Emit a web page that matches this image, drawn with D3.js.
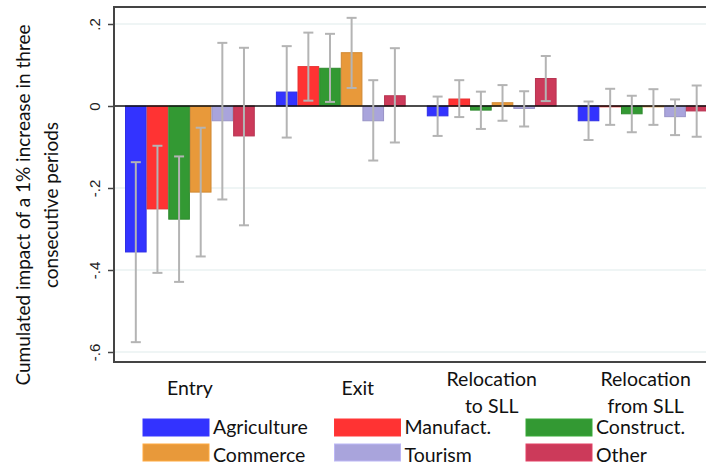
<!DOCTYPE html>
<html>
<head>
<meta charset="utf-8">
<script src="https://cdn.jsdelivr.net/npm/d3@7"></script>
<style>
  body { margin: 0; background: #fff; }
  text { font-family: Lato, "Open Sans", sans-serif; }
</style>
</head>
<body>
<div class="chart"></div>
<script>
// data
const groups = ['Entry', 'Exit', 'RelocTo', 'RelocFrom']
const groupLabels = [['Entry'], ['Exit'], ['Relocation', 'to SLL'], ['Relocation', 'from SLL']]
const sectors = ['Agriculture', 'Manufact.', 'Construct.', 'Commerce', 'Tourism', 'Other']
const colors = ['#3333ff', '#ff3333', '#339933', '#e8993a', '#a9a4dc', '#cc3a5a']

// estimates per group, one value per sector
const estimates = [
  [-0.356, -0.251, -0.276, -0.210, -0.036, -0.073],
  [0.034, 0.096, 0.092, 0.130, -0.036, 0.025],
  [-0.024, 0.017, -0.010, 0.008, -0.006, 0.067],
  [-0.036, -0.002, -0.019, -0.002, -0.026, -0.012]
]
const ciLow = [
  [-0.576, -0.407, -0.429, -0.367, -0.228, -0.291],
  [-0.077, 0.013, 0.010, 0.044, -0.133, -0.089],
  [-0.073, -0.027, -0.056, -0.036, -0.050, 0.012],
  [-0.083, -0.046, -0.064, -0.046, -0.071, -0.075]
]
const ciHigh = [
  [-0.137, -0.097, -0.123, -0.053, 0.154, 0.142],
  [0.146, 0.179, 0.176, 0.215, 0.063, 0.141],
  [0.023, 0.063, 0.035, 0.051, 0.036, 0.122],
  [0.011, 0.042, 0.025, 0.041, 0.016, 0.050]
]
const yTicks = [0.2, 0, -0.2, -0.4, -0.6]
const yTickLabels = ['.2', '0', '-.2', '-.4', '-.6']

const width = 706, height = 468

const svg = d3.select('.chart').append('svg')
  .attr('width', width)
  .attr('height', height)

// plot frame
const frame = {left: 114, top: 7, bottom: 362, right: 712}

const y = d3.scaleLinear()
  .domain([0, 0.2])
  .range([106, 24])

const x0 = d3.scaleBand()
  .domain(groups)
  .range([125, 707.5])
  .paddingInner(0.14)
  .paddingOuter(0)

const x1 = d3.scaleBand()
  .domain(sectors)
  .range([0, x0.bandwidth()])

const color = d3.scaleOrdinal().domain(sectors).range(colors)

// gridlines
svg.append('g')
  .selectAll('line')
  .data(yTicks.filter(d => d !== 0))
  .enter().append('line')
  .attr('x1', frame.left)
  .attr('x2', frame.right)
  .attr('y1', d => y(d))
  .attr('y2', d => y(d))
  .attr('stroke', '#eaf2f2')
  .attr('stroke-width', 1.5)

// bars
const rows = []
groups.forEach((g, gi) => {
  sectors.forEach((s, si) => {
    rows.push({group: g, sector: s, value: estimates[gi][si], lo: ciLow[gi][si], hi: ciHigh[gi][si]})
  })
})

svg.append('g')
  .selectAll('rect')
  .data(rows)
  .enter().append('rect')
  .attr('x', d => x0(d.group) + x1(d.sector) + 0.5)
  .attr('width', x1.bandwidth() - 1)
  .attr('y', d => Math.min(y(d.value), y(0)))
  .attr('height', d => Math.abs(y(d.value) - y(0)))
  .attr('fill', d => color(d.sector))
  .attr('stroke', d => d3.rgb(color(d.sector)).darker(0.3))
  .attr('stroke-width', 1)

// zero line
svg.append('line')
  .attr('x1', frame.left)
  .attr('x2', frame.right)
  .attr('y1', y(0))
  .attr('y2', y(0))
  .attr('stroke', '#111')
  .attr('stroke-width', 1.5)

// error bars
const err = svg.append('g')
  .selectAll('g')
  .data(rows)
  .enter().append('g')
  .attr('transform', d => 'translate(' + (x0(d.group) + x1(d.sector) + x1.bandwidth() / 2) + ',0)')
  .attr('stroke', '#b4b4b4')
  .attr('stroke-width', 2)

err.append('line')
  .attr('y1', d => y(d.lo))
  .attr('y2', d => y(d.hi))
err.append('line')
  .attr('x1', -5).attr('x2', 5)
  .attr('y1', d => y(d.lo)).attr('y2', d => y(d.lo))
err.append('line')
  .attr('x1', -5).attr('x2', 5)
  .attr('y1', d => y(d.hi)).attr('y2', d => y(d.hi))

// frame lines
svg.append('path')
  .attr('d', 'M' + frame.right + ',' + frame.top + 'H' + frame.left + 'V' + frame.bottom + 'H' + frame.right)
  .attr('fill', 'none')
  .attr('stroke', '#444')
  .attr('stroke-width', 2)

// y axis
const yAxis = svg.append('g')
  .attr('transform', 'translate(' + frame.left + ',0)')
  .call(d3.axisLeft(y).tickValues(yTicks).tickSize(6).tickFormat((d, i) => yTickLabels[i]))

yAxis.select('.domain').remove()
yAxis.selectAll('.tick line').attr('stroke', '#444').attr('stroke-width', 1.5)
yAxis.selectAll('.tick text')
  .attr('x', 0).attr('dy', 0)
  .attr('transform', 'translate(-14,0) rotate(-90)')
  .attr('text-anchor', 'middle')
  .style('font-family', '"Liberation Sans", Arial, sans-serif')
  .style('font-size', '15px')
  .attr('fill', '#222')

// y title
const yTitle = ['Cumulated impact of a 1% increase in three', 'consecutive periods']
svg.append('g')
  .selectAll('text')
  .data(yTitle)
  .enter().append('text')
  .attr('transform', (d, i) => 'translate(' + (30 + i * 28) + ',205) rotate(-90)')
  .attr('text-anchor', 'middle')
  .style('font-size', '19px')
  .attr('fill', '#111')
  .text(d => d)

// group labels under the axis
const labelShift = [0, 17, 0, 3]
const gl = svg.append('g')
  .selectAll('text')
  .data(groups)
  .enter().append('text')
  .attr('text-anchor', 'middle')
  .attr('x', (d, i) => x0(d) + x0.bandwidth() / 2 + labelShift[i])
  .attr('y', (d, i) => groupLabels[i].length === 1 ? 395 : 386)
  .style('font-size', '19.5px')
  .attr('fill', '#111')

gl.selectAll('tspan')
  .data((d, i) => groupLabels[i])
  .enter().append('tspan')
  .attr('x', function () { return d3.select(this.parentNode).attr('x') })
  .attr('dy', (d, j) => j === 0 ? 0 : 27)
  .text(d => d)

// legend
const legend = svg.append('g')
  .selectAll('g')
  .data(sectors)
  .enter().append('g')
  .attr('transform', (d, i) => 'translate(' + (143 + (i % 3) * 191.5) + ',' + (419 + Math.floor(i / 3) * 25) + ')')

legend.append('rect')
  .attr('width', 66)
  .attr('height', 17)
  .attr('fill', d => color(d))
  .attr('stroke', d => d3.rgb(color(d)).brighter(0.3))

legend.append('text')
  .attr('x', 70)
  .attr('y', 15)
  .attr('dy', (d, i) => i < 3 ? 0 : 3)
  .style('font-size', '19.5px')
  .attr('fill', '#111')
  .text(d => d)
</script>
</body>
</html>
